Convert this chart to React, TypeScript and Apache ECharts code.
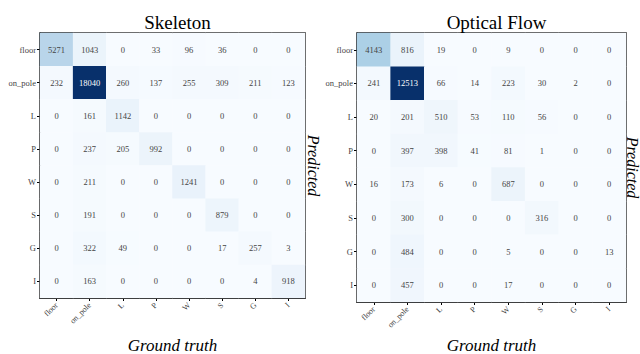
import React, { useEffect, useRef } from "react";
import * as echarts from "echarts";

const categories = ["floor", "on_pole", "L", "P", "W", "S", "G", "I"];
// rows = predicted, columns = ground truth
const skeletonMatrix = [
  [5271, 1043, 0, 33, 96, 36, 0, 0],
  [232, 18040, 260, 137, 255, 309, 211, 123],
  [0, 161, 1142, 0, 0, 0, 0, 0],
  [0, 237, 205, 992, 0, 0, 0, 0],
  [0, 211, 0, 0, 1241, 0, 0, 0],
  [0, 191, 0, 0, 0, 879, 0, 0],
  [0, 322, 49, 0, 0, 17, 257, 3],
  [0, 163, 0, 0, 0, 0, 4, 918],
];
const flowMatrix = [
  [4143, 816, 19, 0, 9, 0, 0, 0],
  [241, 12513, 66, 14, 223, 30, 2, 0],
  [20, 201, 510, 53, 110, 56, 0, 0],
  [0, 397, 398, 41, 81, 1, 0, 0],
  [16, 173, 6, 0, 687, 0, 0, 0],
  [0, 300, 0, 0, 0, 316, 0, 0],
  [0, 484, 0, 0, 5, 0, 0, 13],
  [0, 457, 0, 0, 17, 0, 0, 0],
];
const titles = ["Skeleton", "Optical Flow"];

const blues = ["#f7fbff", "#deebf7", "#c6dbef", "#9ecae1", "#6baed6", "#4292c6", "#2171b5", "#08519c", "#08306b"];
const SERIF = "'Liberation Serif', 'DejaVu Serif', serif";

function toData(m: number[][]) {
  const max = Math.max(...m.flat());
  const out: any[] = [];
  m.forEach((row, r) =>
    row.forEach((v, c) => {
      out.push({
        value: [c, r, v],
        label: {
          show: true,
          fontSize: 8.5,
          fontFamily: SERIF,
          color: v / max > 0.5 ? "#ffffff" : "#444444",
        },
      });
    })
  );
  return out;
}

export default function App() {
  const ref = useRef<HTMLDivElement>(null);
  useEffect(() => {
    if (!ref.current) return;
    const chart = echarts.init(ref.current, null, { renderer: "svg" });
    const grids = [
      { left: 40, top: 33, width: 265, height: 265 },
      { left: 357, top: 33, width: 269, height: 269 },
    ];
    const mats = [skeletonMatrix, flowMatrix];
    const axisCommon = {
      type: "category" as const,
      data: categories,
      axisLine: { show: true, lineStyle: { color: "#000", width: 1.2 } },
      axisTick: { show: true, alignWithLabel: true, length: 3, lineStyle: { color: "#000" } },
      splitLine: { show: false },
      splitArea: { show: false },
    };
    chart.setOption({
      animation: false,
      backgroundColor: "#ffffff",
      textStyle: { fontFamily: SERIF },
      grid: grids.map((g) => ({ ...g, show: true, borderColor: "#000", borderWidth: 1.5, backgroundColor: "transparent" })),
      xAxis: grids.map((_, i) => ({
        ...axisCommon,
        gridIndex: i,
        position: "bottom",
        axisLabel: { rotate: 45, fontSize: 8, fontFamily: SERIF, color: "#444444", margin: 6 },
      })),
      yAxis: grids.map((_, i) => ({
        ...axisCommon,
        gridIndex: i,
        inverse: true,
        axisLabel: { fontSize: 8.5, fontFamily: SERIF, color: "#444444", margin: 4 },
      })),
      visualMap: mats.map((m, i) => ({
        show: false,
        seriesIndex: i,
        dimension: 2,
        min: 0,
        max: Math.max(...m.flat()),
        inRange: { color: blues },
      })),
      series: mats.map((m, i) => ({
        type: "heatmap",
        xAxisIndex: i,
        yAxisIndex: i,
        data: toData(m),
        label: {
          show: true,
          fontSize: 8.5,
          fontFamily: SERIF,
          formatter: (p: any) => String(p.value[2]),
        },
        itemStyle: { borderWidth: 0 },
      })),
      title: grids.map((g, i) => ({
        text: titles[i],
        left: g.left + g.width / 2,
        top: 8,
        textAlign: "center",
        textStyle: { fontFamily: SERIF, fontSize: 19, fontWeight: "normal", color: "#000" },
      })),
      graphic: grids.flatMap((g, i) => [
        {
          type: "text",
          x: g.left + g.width / 2,
          y: 345,
          style: {
            text: "Ground truth",
            font: `italic 17px ${SERIF}`,
            fill: "#000",
            align: "center",
            verticalAlign: "middle",
          },
        },
        {
          type: "text",
          x: Math.min(g.left + g.width + 8, 632),
          y: g.top + g.height / 2,
          rotation: -Math.PI / 2,
          style: {
            text: "Predicted",
            font: `italic 16px ${SERIF}`,
            fill: "#000",
            align: "center",
            verticalAlign: "middle",
          },
        },
      ]),
    });
    return () => chart.dispose();
  }, []);
  return <div ref={ref} style={{ position: "fixed", left: 0, top: 0, width: 640, height: 354 }} />;
}
